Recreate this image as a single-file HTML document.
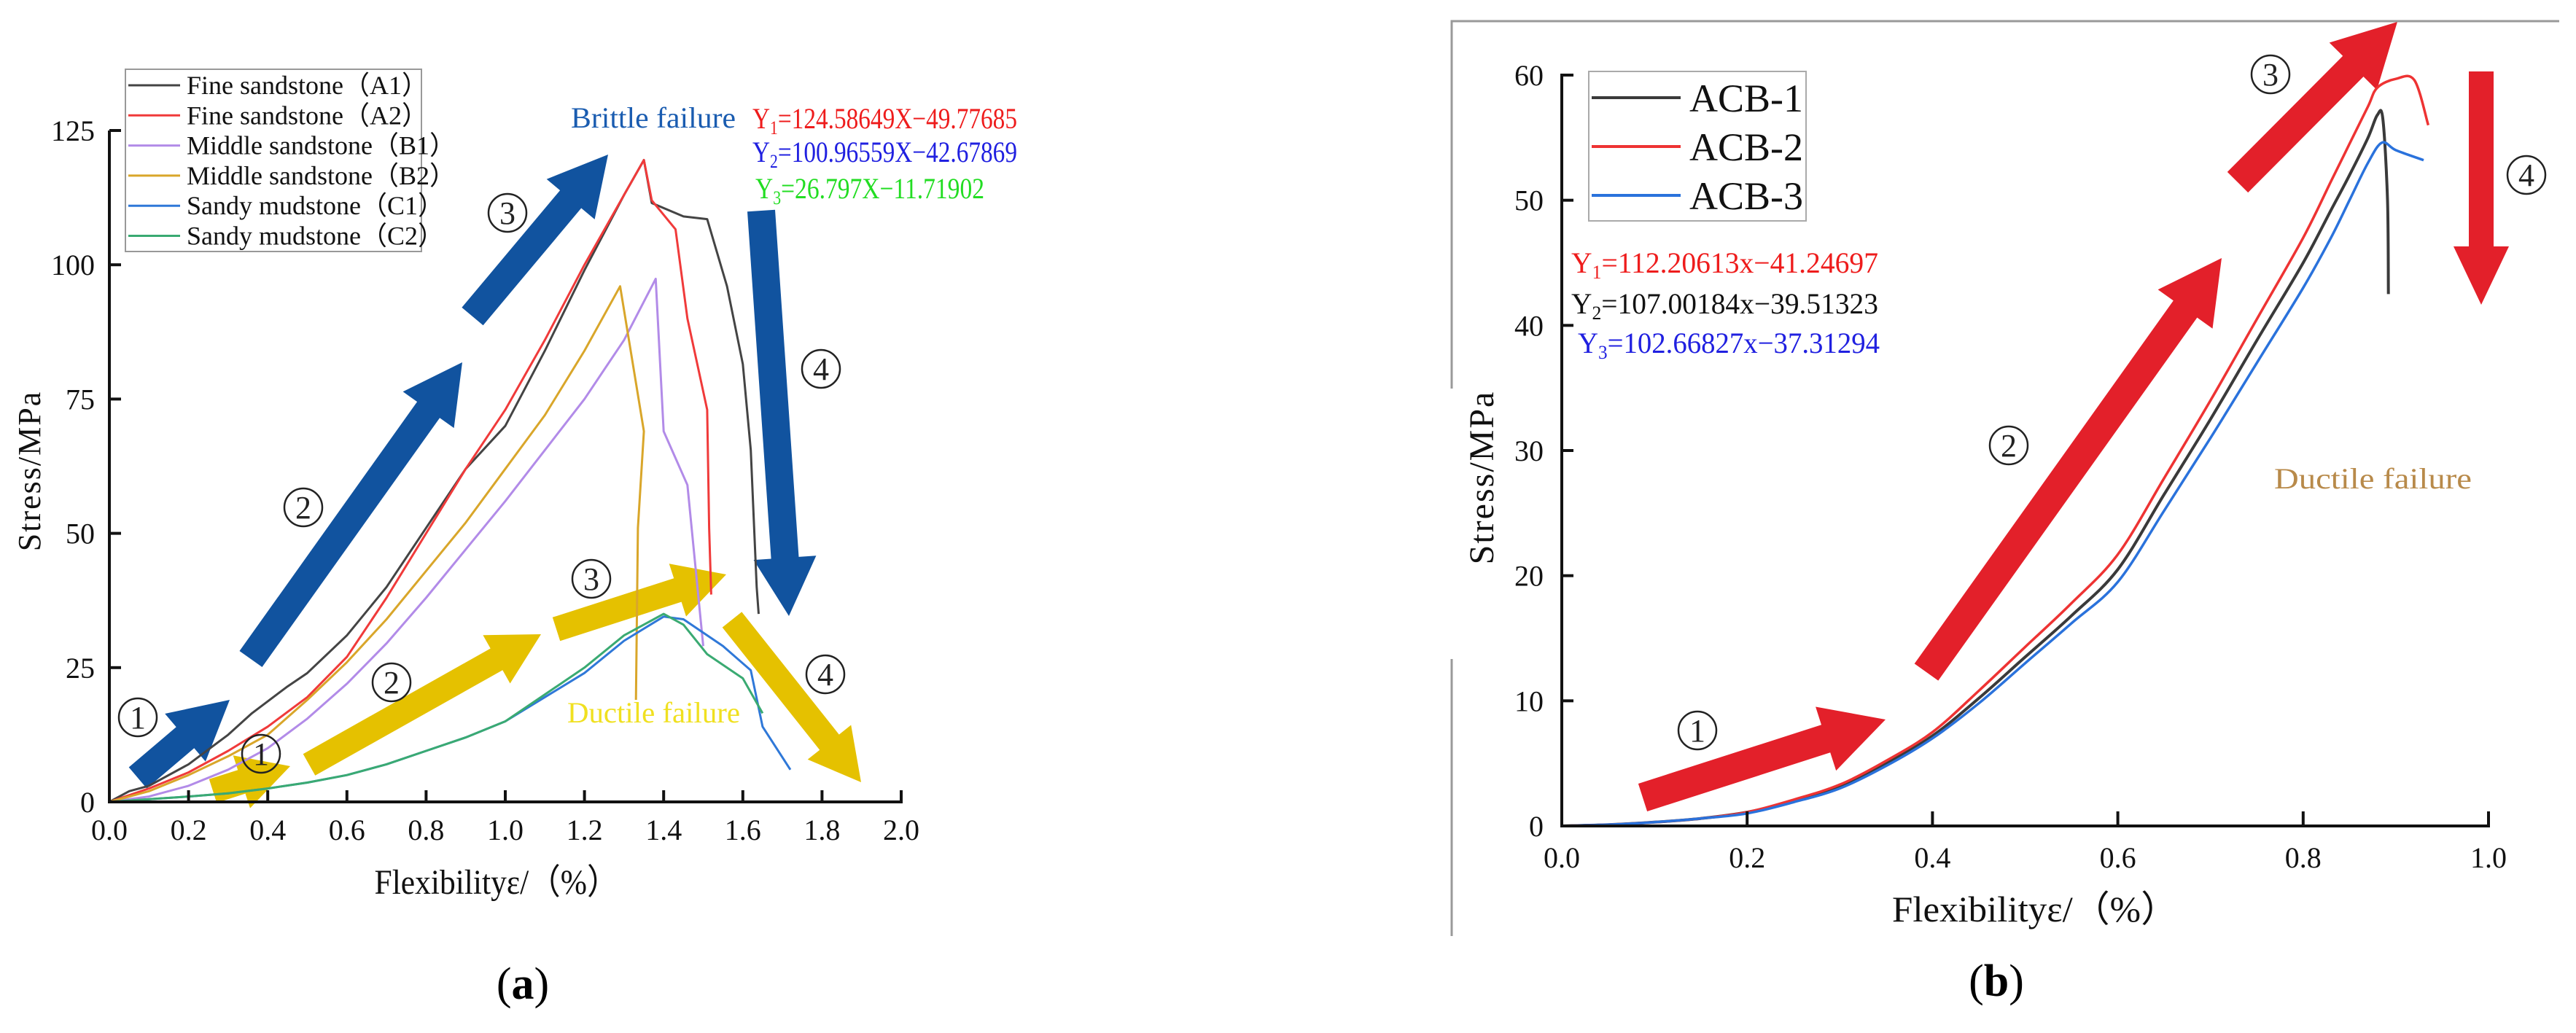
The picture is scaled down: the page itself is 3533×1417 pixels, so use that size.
<!DOCTYPE html>
<html><head><meta charset="utf-8"><style>
html,body{margin:0;padding:0;background:#fff;}
svg{display:block;font-family:"Liberation Serif",serif;}
</style></head><body>
<svg id="fig" width="3533" height="1417" viewBox="0 0 3533 1417" xmlns="http://www.w3.org/2000/svg">
<rect x="0" y="0" width="3533" height="1417" fill="#fff"/>
<g id="ga"></g>
<g id="gb"></g>
<g id="gc"></g>
</svg>
<script>
// ---------- Chart (a) data ----------
const aXTicks = [0.0,0.2,0.4,0.6,0.8,1.0,1.2,1.4,1.6,1.8,2.0];
const aYTicks = [0,25,50,75,100,125];
const aNames = ["Fine sandstone（A1）","Fine sandstone（A2）","Middle sandstone（B1）","Middle sandstone（B2）","Sandy mudstone（C1）","Sandy mudstone（C2）"];
const aColors = ["#444","#f03a3a","#b28be8","#d9a62a","#2f78d8","#3aaa72"];
const A1x=[0,0.05,0.1,0.2,0.3,0.36,0.45,0.5,0.6,0.7,0.8,0.9,1.0,1.1,1.2,1.3,1.35,1.37,1.45,1.51,1.56,1.6,1.62,1.635,1.64];
const A1y=[0,2,3,7,12.5,16.5,21.5,24,31,40,51,62,70,84,99,113,119.5,111.5,109,108.5,96,81.5,65.5,40,35];
const A2x=[0,0.1,0.2,0.3,0.4,0.5,0.6,0.7,0.8,0.9,1.0,1.1,1.2,1.3,1.35,1.37,1.43,1.46,1.51,1.515,1.52];
const A2y=[0,2.5,5.5,9.5,14,19.5,27,38,50,62,73,86,100,113,119.5,112,106.6,90,73,51,38.6];
const B1x=[0,0.1,0.2,0.3,0.4,0.5,0.6,0.7,0.8,0.9,1.0,1.1,1.2,1.3,1.38,1.4,1.46,1.5];
const B1y=[0,1,3,6,10,15.5,22,29.5,38,47,56,65.5,75,86,97.4,69,59,29];
const B2x=[0,0.1,0.2,0.3,0.4,0.5,0.6,0.7,0.8,0.9,1.0,1.1,1.2,1.29,1.35,1.335,1.33];
const B2y=[0,2,5,8.5,12.5,19,26,34,43,52,62,72,84,96,69,51,19];
const C1x=[0,0.2,0.3,0.4,0.5,0.6,0.7,0.8,0.9,1.0,1.1,1.2,1.3,1.4,1.45,1.55,1.62,1.65,1.72];
const C1y=[0,1,1.6,2.5,3.6,5,7,9.5,12,15,19.5,24,30,34.5,34,29,24.5,14,6];
const C2x=[0,0.2,0.3,0.4,0.5,0.6,0.7,0.8,0.9,1.0,1.1,1.2,1.3,1.4,1.45,1.51,1.6,1.65];
const C2y=[0,1,1.6,2.5,3.6,5,7,9.5,12,15,20,25,31,35,33,27.5,23,16.5];
const aSeriesX=[A1x,A2x,B1x,B2x,C1x,C2x];
const aSeriesY=[A1y,A2y,B1y,B2y,C1y,C2y];

// ---------- Chart (b) data ----------
const bXTicks=[0.0,0.2,0.4,0.6,0.8,1.0];
const bYTicks=[0,10,20,30,40,50,60];
const bNames=["ACB-1","ACB-2","ACB-3"];
const bColors=["#3a3a3a","#ee3333","#2a72dc"];
const B_1x=[0,0.05,0.1,0.15,0.2,0.25,0.3,0.35,0.4,0.45,0.5,0.55,0.6,0.65,0.7,0.75,0.8,0.83,0.85,0.87,0.88,0.886,0.891,0.892];
const B_1y=[0,0.1,0.3,0.6,1.1,2.0,3.2,5.0,7.2,10.2,13.5,16.8,20.5,26.5,32.5,38.8,45,49.2,52,55,56.8,56.5,50,42.5];
const B_2x=[0,0.05,0.1,0.15,0.2,0.25,0.3,0.35,0.4,0.45,0.5,0.55,0.6,0.65,0.7,0.75,0.8,0.83,0.85,0.87,0.88,0.9,0.92,0.935];
const B_2y=[0,0.1,0.3,0.6,1.1,2.1,3.3,5.2,7.5,10.8,14.3,17.8,21.7,27.8,34,40.5,47,51.5,54.5,57.5,59,59.7,59.6,56];
const B_3x=[0,0.05,0.1,0.15,0.2,0.25,0.3,0.35,0.4,0.45,0.5,0.55,0.6,0.65,0.7,0.75,0.8,0.83,0.85,0.87,0.885,0.9,0.93];
const B_3y=[0,0.1,0.3,0.6,1.0,1.9,3.0,4.8,7.0,9.8,13,16.2,19.5,25.2,31,37,43,47,50,53,54.6,54,53.2];
const bSeriesX=[B_1x,B_2x,B_3x];
const bSeriesY=[B_1y,B_2y,B_3y];

const NS="http://www.w3.org/2000/svg";
function mk(parent,tag,attrs,txt){const e=document.createElementNS(NS,tag);for(const k in attrs)e.setAttribute(k,attrs[k]);if(txt!==undefined)e.textContent=txt;parent.appendChild(e);return e;}
function arrowPts(x1,y1,x2,y2,w,hw,hl){const dx=x2-x1,dy=y2-y1,L=Math.hypot(dx,dy),ux=dx/L,uy=dy/L,px=-uy,py=ux;const bx=x2-ux*hl,by=y2-uy*hl;
 const p=[[x1+px*w/2,y1+py*w/2],[bx+px*w/2,by+py*w/2],[bx+px*hw/2,by+py*hw/2],[x2,y2],[bx-px*hw/2,by-py*hw/2],[bx-px*w/2,by-py*w/2],[x1-px*w/2,y1-py*w/2]];
 return p.map(q=>q[0].toFixed(1)+","+q[1].toFixed(1)).join(" ");}
function smooth(pts){ // catmull-rom to bezier
 let d='M'+pts[0][0].toFixed(1)+','+pts[0][1].toFixed(1);
 for(let i=0;i<pts.length-1;i++){const p0=pts[Math.max(0,i-1)],p1=pts[i],p2=pts[i+1],p3=pts[Math.min(pts.length-1,i+2)];
  const c1=[p1[0]+(p2[0]-p0[0])/6,p1[1]+(p2[1]-p0[1])/6],c2=[p2[0]-(p3[0]-p1[0])/6,p2[1]-(p3[1]-p1[1])/6];
  d+='C'+c1[0].toFixed(1)+','+c1[1].toFixed(1)+' '+c2[0].toFixed(1)+','+c2[1].toFixed(1)+' '+p2[0].toFixed(1)+','+p2[1].toFixed(1);}
 return d;}

// ---------- draw chart a ----------
(function(){
const g=document.getElementById('ga');
const X0=150,X1=1236,Y0=1100,Y1=179;
const xs=v=>X0+(v-0)/(2.0)*(X1-X0);
const ys=v=>Y0-(v/125)*(Y0-Y1);
const blue="#11539f",yel="#e5c100";
const bArr=[[189,1067,315,960],[344,904,634,497],[648,434,834,212],[1044,289,1082,845]];
bArr.forEach((a,i)=>{const p=mk(g,'polygon',{points:arrowPts(a[0],a[1],a[2],a[3],38,86,80),fill:blue});

});
const yArr=[[292,1085,398,1051],[424,1049,742,870],[763,863,996,788],[1004,850,1181,1073]];
yArr.forEach((a,i)=>{const p=mk(g,'polygon',{points:arrowPts(a[0],a[1],a[2],a[3],34,76,70),fill:yel});

});
aSeriesX.forEach((sx,i)=>{const d=sx.map((v,j)=>(j?'L':'M')+xs(v).toFixed(1)+','+ys(aSeriesY[i][j]).toFixed(1)).join('');
const p=mk(g,'path',{d:d,fill:'none',stroke:aColors[i],'stroke-width':3,'stroke-linejoin':'round'});

});
const ax=mk(g,'path',{d:`M${X0},${Y1}H${X0+16}M${X0},${Y1}V${Y0}H${X1}V${Y0-16}`,fill:'none',stroke:'#111','stroke-width':4});

aXTicks.forEach(v=>{const x=xs(v);
const t=mk(g,'line',{x1:x,y1:Y0,x2:x,y2:Y0-16,stroke:'#111','stroke-width':4});

const l=mk(g,'text',{x:x,y:Y0+52,'font-size':40,'text-anchor':'middle',fill:'#111'},v.toFixed(1));
});
aYTicks.forEach(v=>{const y=ys(v);
const t=mk(g,'line',{x1:X0,y1:y,x2:X0+16,y2:y,stroke:'#111','stroke-width':4});

const l=mk(g,'text',{x:X0-20,y:y+14,'font-size':40,'text-anchor':'end',fill:'#111'},String(v));
});
const lb=mk(g,'rect',{x:172,y:95,width:406,height:250,fill:'#fff',stroke:'#999','stroke-width':2});

aNames.forEach((n,i)=>{const cy=117+i*41.3;
const ln=mk(g,'line',{x1:176,y1:cy,x2:247,y2:cy,stroke:aColors[i],'stroke-width':3});

const t=mk(g,'text',{x:256,y:cy+12,'font-size':36,fill:'#111'},n);
});
})();

// ---------- draw chart b ----------
(function(){
const g=document.getElementById('gb');
const X0=2142,X1=3413,Y0=1133,Y1=103;
const xs=v=>X0+v*(X1-X0);
const ys=v=>Y0-(v/60)*(Y0-Y1);
const red="#e3202a";
const rArr=[[2253,1094,2586,987],[2642,922,3047,354],[3069,250,3288,30]];
rArr.forEach((a,i)=>{const p=mk(g,'polygon',{points:arrowPts(a[0],a[1],a[2],a[3],40,92,86),fill:red});

});
const p4=mk(g,'polygon',{points:arrowPts(3403,98,3403,418,34,76,80),fill:red});


bSeriesX.forEach((sx,i)=>{const pts=sx.map((v,j)=>[xs(v),ys(bSeriesY[i][j])]);
const p=mk(g,'path',{d:smooth(pts),fill:'none',stroke:bColors[i],'stroke-width':i==0?4:3.5,'stroke-linejoin':'round'});

});
const ax=mk(g,'path',{d:`M${X0+16},${Y1}H${X0}V${Y0}H${X1}V${Y0-20}`,fill:'none',stroke:'#111','stroke-width':4});

bXTicks.forEach(v=>{const x=xs(v);
const t=mk(g,'line',{x1:x,y1:Y0,x2:x,y2:Y0-20,stroke:'#111','stroke-width':4});

const l=mk(g,'text',{x:x,y:Y0+57,'font-size':40,'text-anchor':'middle',fill:'#111'},v.toFixed(1));
});
bYTicks.forEach(v=>{const y=ys(v);
const t=mk(g,'line',{x1:X0,y1:y,x2:X0+16,y2:y,stroke:'#111','stroke-width':4});

const l=mk(g,'text',{x:X0-25,y:y+14,'font-size':40,'text-anchor':'end',fill:'#111'},String(v));
});
const lb=mk(g,'rect',{x:2179,y:98,width:298,height:205,fill:'#fff',stroke:'#aaa','stroke-width':2});

bNames.forEach((n,i)=>{const cy=134+i*67;
const ln=mk(g,'line',{x1:2183,y1:cy,x2:2305,y2:cy,stroke:bColors[i],'stroke-width':4});

const t=mk(g,'text',{x:2317,y:cy+19,'font-size':54,fill:'#111'},n);
});
})();

// ---------- circled stage markers ----------
(function(){
const g=document.getElementById('gc');
const mx=[189,416,696,1126,358,537,811,1132,2328,2755,3114,3465];
const my=[984,696,292,506,1034,936,794,925,1002,611,102,240];
const mt=["1","2","3","4","1","2","3","4","1","2","3","4"];
const mn=["stage-1-a","stage-2-a","stage-3-a","stage-4-a","stage-1-a-yellow","stage-2-a-yellow","stage-3-a-yellow","stage-4-a-yellow","stage-1-b","stage-2-b","stage-3-b","stage-4-b"];
mx.forEach((x,i)=>{
const c=mk(g,'circle',{cx:x,cy:my[i],r:26,fill:'none',stroke:'#222','stroke-width':2.5});


const t=mk(g,'text',{x:x,y:my[i]+15,'font-size':44,'text-anchor':'middle',fill:'#222'},mt[i]);

});
})();
</script>
<svg style="position:absolute;left:0;top:0" width="3533" height="1417" viewBox="0 0 3533 1417" xmlns="http://www.w3.org/2000/svg" font-family="Liberation Serif, serif">
<text x="55" y="646" font-size="44" text-anchor="middle" fill="#111" transform="rotate(-90 55 646)" letter-spacing="2">Stress/MPa</text>
<text x="681" y="1226" font-size="48" text-anchor="middle" fill="#111" textLength="335" lengthAdjust="spacingAndGlyphs">Flexibilityε/（%）</text>
<text x="717" y="1370" font-size="62" text-anchor="middle" fill="#000">(<tspan font-weight="bold">a</tspan>)</text>
<text x="783" y="175" font-size="40" fill="#1a5cb0" textLength="226" lengthAdjust="spacingAndGlyphs">Brittle failure</text>
<text x="1032" y="176" font-size="40" fill="#ee1c1c" textLength="363" lengthAdjust="spacingAndGlyphs">Y<tspan font-size="26" dy="8">1</tspan><tspan dy="-8">=124.58649X−49.77685</tspan></text>
<text x="1032" y="222" font-size="40" fill="#2020e0" textLength="363" lengthAdjust="spacingAndGlyphs">Y<tspan font-size="26" dy="8">2</tspan><tspan dy="-8">=100.96559X−42.67869</tspan></text>
<text x="1036" y="272" font-size="40" fill="#22dd22" textLength="314" lengthAdjust="spacingAndGlyphs">Y<tspan font-size="26" dy="8">3</tspan><tspan dy="-8">=26.797X−11.71902</tspan></text>
<text x="778" y="991" font-size="40" fill="#f0e020" textLength="237" lengthAdjust="spacingAndGlyphs">Ductile failure</text>
<path d="M1991,1284V904M1991,533V29H3510" fill="none" stroke="#999" stroke-width="3"/>
<text x="2048" y="655" font-size="48" text-anchor="middle" fill="#111" transform="rotate(-90 2048 655)" letter-spacing="2">Stress/MPa</text>
<text x="2791" y="1264" font-size="50" text-anchor="middle" fill="#111" textLength="392" lengthAdjust="spacingAndGlyphs">Flexibilityε/（%）</text>
<text x="2738" y="1366" font-size="62" text-anchor="middle" fill="#000">(<tspan font-weight="bold">b</tspan>)</text>
<text x="2155" y="374" font-size="40" fill="#ee1c1c" textLength="421" lengthAdjust="spacingAndGlyphs">Y<tspan font-size="26" dy="8">1</tspan><tspan dy="-8">=112.20613x−41.24697</tspan></text>
<text x="2155" y="430" font-size="40" fill="#111" textLength="421" lengthAdjust="spacingAndGlyphs">Y<tspan font-size="26" dy="8">2</tspan><tspan dy="-8">=107.00184x−39.51323</tspan></text>
<text x="2164" y="484" font-size="40" fill="#2020e0" textLength="414" lengthAdjust="spacingAndGlyphs">Y<tspan font-size="26" dy="8">3</tspan><tspan dy="-8">=102.66827x−37.31294</tspan></text>
<text x="3119" y="670" font-size="40" fill="#b88a4a" textLength="271" lengthAdjust="spacingAndGlyphs">Ductile failure</text>
</svg>
</body></html>
